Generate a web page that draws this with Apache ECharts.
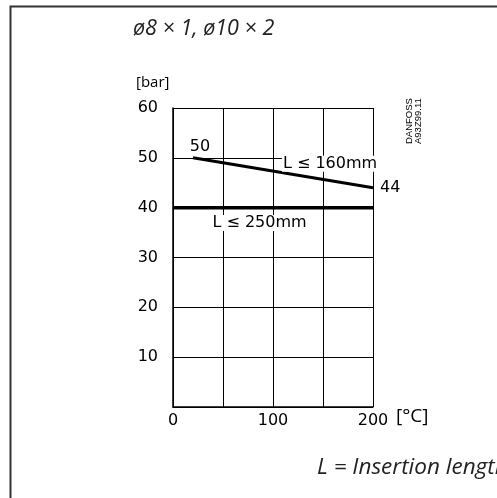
<!DOCTYPE html>
<html><head><meta charset="utf-8">
<script src="https://cdn.jsdelivr.net/npm/echarts@6/dist/echarts.min.js"></script>
<style>html,body{margin:0;padding:0;background:#fff}#c{width:497px;height:498px}</style>
</head><body><div id="c"></div>
<script>
const xTicks = [0, 100, 200];
const yTicks = [10, 20, 30, 40, 50, 60];
const line160 = [[20, 50], [200, 44]];
const line250 = [[0, 40], [200, 40]];
const label160 = [157, 48.8];
const label250 = [86.5, 36.9];

const chart = echarts.init(document.getElementById('c'), null, {renderer: 'canvas'});
const numFont = '"DejaVu Sans", Verdana, sans-serif';
chart.setOption({
  animation: false,
  backgroundColor: '#fff',
  grid: {left: 173, right: 124, top: 108, bottom: 91, containLabel: false},
  xAxis: {
    type: 'value', min: 0, max: 200, interval: 50,
    axisLine: {show: true, lineStyle: {color: '#000', width: 1.5}},
    axisTick: {show: false},
    splitLine: {show: true, lineStyle: {color: '#000', width: 1}},
    axisLabel: {
      margin: 6, color: '#000', fontSize: 16, fontFamily: numFont,
      formatter: v => xTicks.includes(v) ? String(v) : ''
    }
  },
  yAxis: {
    type: 'value', min: 0, max: 60, interval: 10,
    axisLine: {show: true, lineStyle: {color: '#000', width: 1.5}},
    axisTick: {show: false},
    splitLine: {show: true, lineStyle: {color: '#000', width: 1}},
    axisLabel: {
      margin: 15, color: '#000', fontSize: 16, fontFamily: numFont,
      formatter: v => yTicks.includes(v) ? String(v) : ''
    }
  },
  series: [
    {
      type: 'line', data: line160, symbol: 'none',
      lineStyle: {color: '#000', width: 3},
      label: {show: false},
      markPoint: {
        symbol: 'circle', symbolSize: 0,
        label: {show: true, color: '#000', fontSize: 16, fontFamily: numFont},
        data: [
          {coord: line160[0], label: {formatter: String(line160[0][1]), position: 'top', offset: [7, -1], distance: 2}},
          {coord: line160[1], label: {formatter: String(line160[1][1]), position: 'right', distance: 7}},
          {coord: label160, label: {formatter: 'L ≤ 160mm', position: 'inside', backgroundColor: '#fff', padding: [0, 1]}}
        ]
      }
    },
    {
      type: 'line', data: line250, symbol: 'none',
      lineStyle: {color: '#000', width: 3.5},
      markPoint: {
        symbol: 'circle', symbolSize: 0,
        label: {show: true, color: '#000', fontSize: 16, fontFamily: numFont},
        data: [
          {coord: label250, label: {formatter: 'L ≤ 250mm', position: 'inside', backgroundColor: '#fff', padding: [0, 1]}}
        ]
      }
    }
  ],
  graphic: [
    {type: 'rect', shape: {x: 10.5, y: 6.5, width: 600, height: 600}, style: {fill: 'none', stroke: '#333', lineWidth: 2}, z: -1},
    {type: 'text', left: 133, top: 18, style: {text: 'ø8 × 1, ø10 × 2', font: 'italic 21.5px "Open Sans", "Noto Sans", sans-serif', fill: '#222'}},
    {type: 'text', left: 136, top: 75, style: {text: '[bar]', font: '15px "Open Sans", "Noto Sans", sans-serif', fill: '#000'}},
    {type: 'text', left: 396, top: 407, style: {text: '[°C]', font: '19px "Open Sans", "Noto Sans", sans-serif', fill: '#000'}},
    {type: 'text', x: 317, y: 456, style: {text: 'L = Insertion length', font: 'italic 22.5px "Open Sans", "Noto Sans", sans-serif', fill: '#222'}},
    {type: 'text', x: 405, y: 144, rotation: Math.PI / 2, style: {text: 'DANFOSS\nA93Z99.11', font: '9.5px "Liberation Sans", Arial, sans-serif', fill: '#000', lineHeight: 9, verticalAlign: 'top', align: 'left'}}
  ]
});
</script></body></html>
